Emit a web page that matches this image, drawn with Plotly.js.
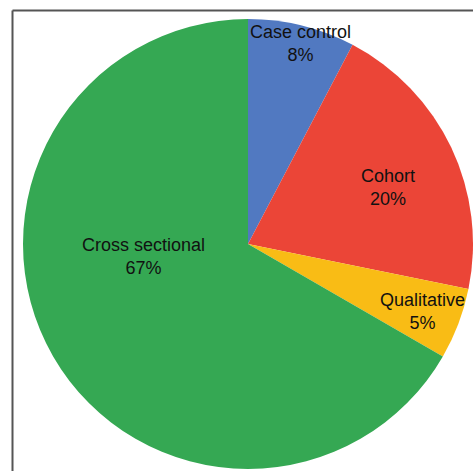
<!DOCTYPE html>
<html>
<head>
<meta charset="utf-8">
<script src="https://cdn.plot.ly/plotly-3.0.1.min.js"></script>
<style>
  html, body { margin: 0; padding: 0; background: #fff; }
  #chart { width: 473px; height: 471px; }
</style>
</head>
<body>
<div id="chart"></div>
<script>
// Data
const categories = ["Case control", "Cohort", "Qualitative", "Cross sectional"];
const counts = [3, 8, 2, 26];
const percentLabels = ["8%", "20%", "5%", "67%"];
const colors = ["#5179C1", "#EB4537", "#F9BC15", "#35A853"];

const W = 473, H = 471;
// label centres in pixels (layout only)
const labelPx = [[300, 44], [388, 187], [422, 311], [143, 256]];

const annotations = categories.map((c, i) => ({
  text: c + "<br>" + percentLabels[i],
  xref: "paper", yref: "paper",
  x: labelPx[i][0] / W, y: 1 - labelPx[i][1] / H,
  xanchor: "center", yanchor: "middle",
  showarrow: false,
  font: { family: "Liberation Sans, Arial, sans-serif", size: 18, color: "#111" }
}));

const trace = {
  type: "pie",
  labels: categories,
  values: counts,
  sort: false,
  direction: "clockwise",
  rotation: 0,
  textinfo: "none",
  hoverinfo: "none",
  marker: { colors: colors, line: { width: 0 } },
  domain: { x: [23 / W, 1], y: [1 - 469 / H, 1 - 19 / H] }
};

const layout = {
  width: W, height: H,
  margin: { l: 0, r: 0, t: 0, b: 0 },
  paper_bgcolor: "#fff",
  showlegend: false,
  annotations: annotations,
  shapes: [
    { type: "line", xref: "paper", yref: "paper", x0: 12.5 / W, x1: 1, y0: 1 - 10.5 / H, y1: 1 - 10.5 / H, line: { color: "#555", width: 2 } },
    { type: "line", xref: "paper", yref: "paper", x0: 12.5 / W, x1: 12.5 / W, y0: 0, y1: 1 - 10.5 / H, line: { color: "#555", width: 2 } }
  ]
};

Plotly.newPlot("chart", [trace], layout, { staticPlot: true, displayModeBar: false });
</script>
</body>
</html>
